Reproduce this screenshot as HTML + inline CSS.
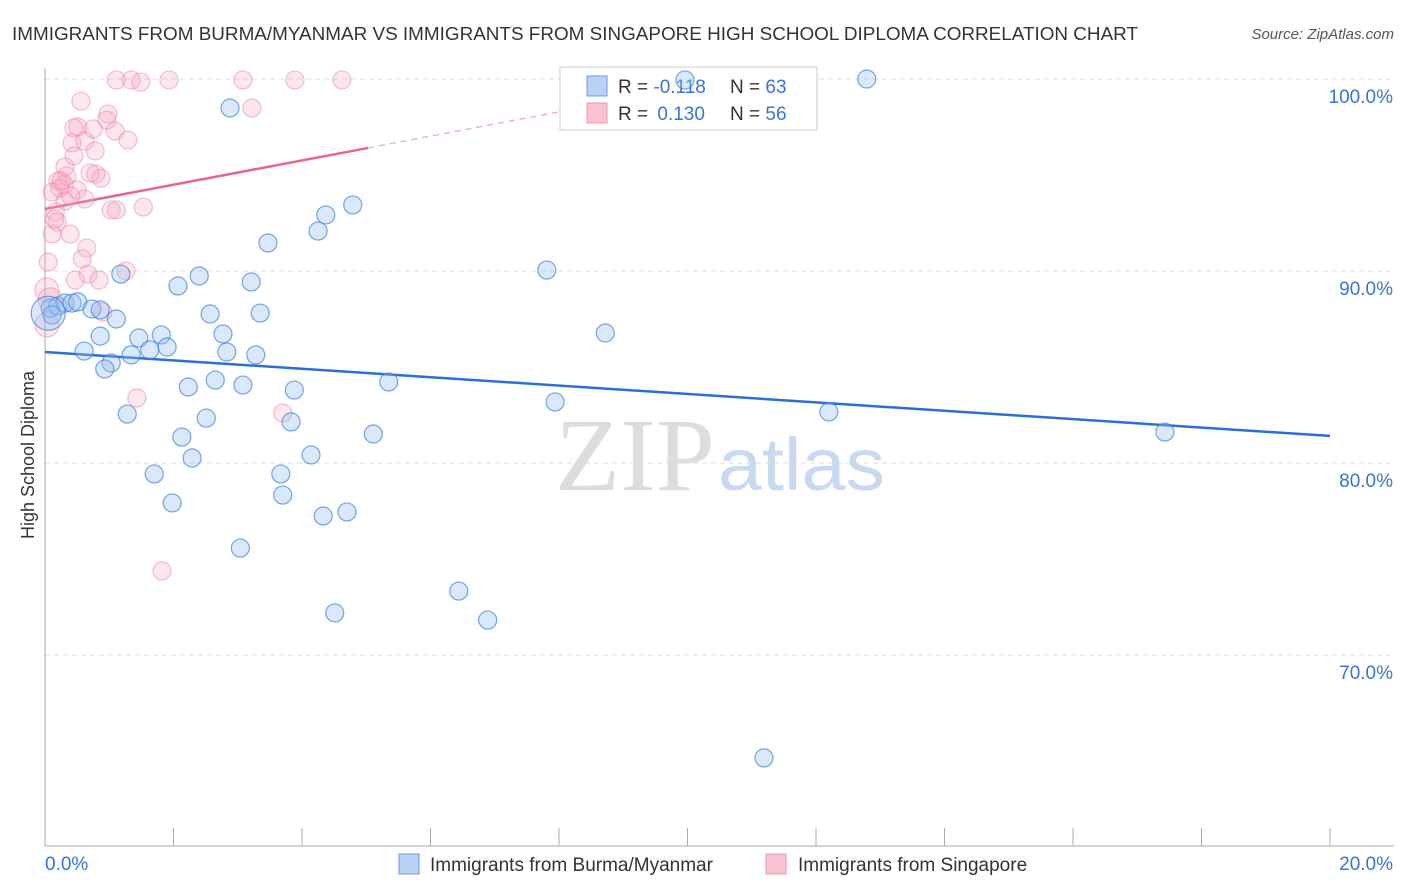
<!DOCTYPE html>
<html><head><meta charset="utf-8"><style>
body{margin:0;background:#fff;font-family:"Liberation Sans",sans-serif;}
#c{position:relative;width:1406px;height:892px;overflow:hidden}
</style></head><body><div id="c">
<svg id="s" width="1406" height="892">
<text x="12" y="40" font-size="18" fill="#333" textLength="1126" lengthAdjust="spacingAndGlyphs">IMMIGRANTS FROM BURMA/MYANMAR VS IMMIGRANTS FROM SINGAPORE HIGH SCHOOL DIPLOMA CORRELATION CHART</text>
<text x="1394" y="39" font-size="15" fill="#555" text-anchor="end" font-style="italic">Source: ZipAtlas.com</text>
<text x="555" y="490" font-size="104" fill="#ddd" textLength="160" lengthAdjust="spacingAndGlyphs" font-family="Liberation Serif">ZIP</text>
<text x="718" y="490" font-size="74" fill="#c9daf0" textLength="167" lengthAdjust="spacingAndGlyphs">atlas</text>
<text transform="translate(34,455) rotate(-90)" font-size="18" fill="#333" text-anchor="middle">High School Diploma</text>
<g id="grid"></g><g id="lines"></g>
<g>
<rect x="560" y="67" width="257" height="63" fill="#fff" stroke="#ccc"/>
<rect x="587" y="76" width="20" height="20" fill="#b9d1f3" stroke="#6a9be0"/>
<rect x="587" y="103" width="20" height="20" fill="#f8c4d2" stroke="#ee95ad"/>
<text x="618" y="93" font-size="19" fill="#333">R = <tspan fill="#3874d8">-0.118</tspan><tspan x="730">N = </tspan><tspan fill="#3874d8">63</tspan></text>
<text x="618" y="120" font-size="19" fill="#333">R = <tspan fill="#3874d8" dx="4">0.130</tspan><tspan x="730">N = </tspan><tspan fill="#3874d8">56</tspan></text>
</g>
<g id="pts"></g>
<g>
<rect x="399" y="854" width="20" height="20" fill="#b9d1f3" stroke="#6a9be0"/>
<text x="430" y="871" font-size="19" fill="#333">Immigrants from Burma/Myanmar</text>
<rect x="766" y="854" width="20" height="20" fill="#f8c4d2" stroke="#ee95ad"/>
<text x="798" y="871" font-size="19" fill="#333">Immigrants from Singapore</text>
</g>
</svg></div>
<script>
const yTicks=[100,90,80,70];
const yTickLabels=["100.0%","90.0%","80.0%","70.0%"];
const xTickLabels=["0.0%","20.0%"];
const blueX=[2.88,9.96,12.79,4.79,4.37,4.25,3.47,7.81,1.18,2.40,3.21,2.07,2.57,3.35,8.72,1.11,2.77,1.81,1.46,0.86,2.83,3.28,1.90,1.63,1.34,0.61,1.03,0.93,2.65,3.08,2.23,3.88,5.35,7.94,1.28,2.51,12.20,3.83,5.11,2.13,2.29,4.14,17.43,1.70,3.67,3.70,1.98,4.33,4.70,3.04,6.44,6.89,4.51,11.19,0.08,0.20,0.31,0.42,0.51,0.73,0.86,0.11,0.05];
const blueY=[98.49,99.95,100,93.44,92.92,92.08,91.46,90.05,89.84,89.74,89.43,89.22,87.76,87.81,86.77,87.50,86.72,86.67,86.51,86.61,85.78,85.63,86.04,85.89,85.63,85.83,85.21,84.90,84.32,84.06,83.96,83.80,84.22,83.18,82.55,82.34,82.66,82.14,81.51,81.35,80.26,80.42,81.61,79.43,79.43,78.33,77.92,77.24,77.45,75.57,73.33,71.82,72.19,64.64,88.07,88.18,88.33,88.33,88.39,88.02,87.97,87.71,87.8];
const pinkX=[1.11,1.34,1.49,1.93,3.08,3.89,4.62,0.56,3.22,0.98,0.96,0.51,0.45,0.75,1.09,1.29,0.42,0.62,0.78,0.45,0.31,0.79,0.87,0.34,0.20,0.30,0.23,0.50,0.11,0.62,0.31,1.53,1.03,1.11,0.16,0.19,0.11,0.39,0.65,0.05,0.58,1.26,0.67,0.47,0.84,0.03,0.90,0.03,1.43,3.70,1.82,0.25,0.40,0.70,0.15,0.08];
const pinkY=[99.95,99.95,99.84,99.95,99.95,99.95,99.95,98.85,98.49,98.18,97.86,97.50,97.45,97.40,97.29,96.82,96.67,96.77,96.25,95.99,95.42,95.05,94.84,94.95,94.69,94.48,94.32,94.22,94.11,93.75,93.65,93.33,93.18,93.18,93.07,92.55,91.93,91.93,91.20,90.47,90.63,90.00,89.84,89.53,89.53,89.01,87.86,87.19,83.39,82.60,74.38,94.7,93.9,95.1,92.7,88.5];
const blueTrend=[85.78,81.41];
const pinkTrend=[93.23,96.41];
const pinkSolidEnd=5.03;
const X=v=>45+v/20*1285, Y=v=>79+(100-v)*19.2;
const ns="http://www.w3.org/2000/svg";
function mk(t,a,p){const e=document.createElementNS(ns,t);for(const k in a)e.setAttribute(k,a[k]);p.appendChild(e);return e;}
const g=document.getElementById('grid'),pts=document.getElementById('pts'),ln=document.getElementById('lines');
yTicks.forEach((t,i)=>{
 const l=mk('line',{x1:45,x2:1394,y1:Y(t),y2:Y(t),stroke:'#ddd','stroke-dasharray':'5,4'},g);
 
 
 const tx=mk('text',{x:1393,y:Y(t)+24,'font-size':19,fill:'#3874d8','text-anchor':'end'},g);tx.textContent=yTickLabels[i];
 
 
});
mk('line',{x1:45,x2:45,y1:68,y2:846,stroke:'#aaa'},g);
mk('line',{x1:45,x2:1394,y1:846,y2:846,stroke:'#aaa'},g);
for(let i=0;i<=10;i++){mk('line',{x1:X(i*2),x2:X(i*2),y1:828,y2:846,stroke:'#aaa'},g);}
xTickLabels.forEach((t,i)=>{const tx=mk('text',{x:i?1393:45,y:870,'font-size':19,fill:'#3874d8','text-anchor':i?'end':'start'},g);tx.textContent=t;
 
 });
pinkX.forEach((x,i)=>{const c=mk('circle',{cx:X(x),cy:Y(pinkY[i]),r:i>=45&&x<0.1?12:9,fill:'rgba(245,170,195,0.28)',stroke:'rgba(235,130,165,0.5)','stroke-width':1.2},pts);
 
 });
blueX.forEach((x,i)=>{const c=mk('circle',{cx:X(x),cy:Y(blueY[i]),r:i==62?17:9,fill:'rgba(150,190,240,0.35)',stroke:'rgba(60,130,220,0.7)','stroke-width':1.2},pts);
 
 });
const bl=mk('line',{x1:X(0),y1:Y(blueTrend[0]),x2:X(20),y2:Y(blueTrend[1]),stroke:'#2a6fd6','stroke-width':2.5},ln);


const ps=(pinkTrend[1]-pinkTrend[0])/pinkSolidEnd;
const pl=mk('line',{x1:X(0),y1:Y(pinkTrend[0]),x2:X(pinkSolidEnd),y2:Y(pinkTrend[1]),stroke:'#e8648f','stroke-width':2.5},ln);


const xe=(100-pinkTrend[0])/ps;
const pd=mk('line',{x1:X(pinkSolidEnd),y1:Y(pinkTrend[1]),x2:X(xe),y2:Y(100),stroke:'#eea0b8','stroke-width':1.2,'stroke-dasharray':'6,5'},ln);


</script></body></html>
